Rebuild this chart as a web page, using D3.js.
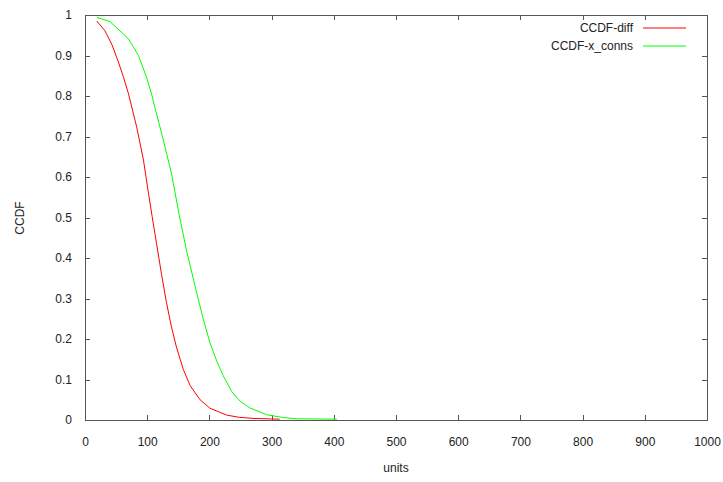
<!DOCTYPE html>
<html>
<head>
<meta charset="utf-8">
<script src="https://cdn.jsdelivr.net/npm/d3@7"></script>
<style>
  html, body { margin: 0; padding: 0; background: #fff; }
  svg { display: block; }
  text { font-family: "Liberation Sans", Arial, sans-serif; font-size: 12px; fill: #222; }
</style>
</head>
<body>
<svg id="chart" width="723" height="482"></svg>
<script>
const xTicks = [0, 100, 200, 300, 400, 500, 600, 700, 800, 900, 1000];
const yTicks = [0, 0.1, 0.2, 0.3, 0.4, 0.5, 0.6, 0.7, 0.8, 0.9, 1];
const yTickLabels = ["0", "0.1", "0.2", "0.3", "0.4", "0.5", "0.6", "0.7", "0.8", "0.9", "1"];
const seriesNames = ["CCDF-diff", "CCDF-x_conns"];
const seriesColors = ["#ff0000", "#00ff00"];

const diffX = [19, 32, 43, 53, 62, 70, 83, 94, 102, 108, 115, 123, 131, 139, 147, 158, 169, 185, 201, 228, 248, 270, 313];
const diffY = [0.985, 0.961, 0.928, 0.887, 0.846, 0.805, 0.724, 0.642, 0.56, 0.502, 0.436, 0.36, 0.29, 0.23, 0.18, 0.125, 0.085, 0.05, 0.029, 0.012, 0.0066, 0.004, 0.002];

const connsX = [19, 40, 70, 86, 99, 107, 112, 126, 139, 151, 163, 177, 190, 201, 212, 222, 236, 249, 265, 292, 319, 340, 405];
const connsY = [0.994, 0.984, 0.941, 0.9, 0.846, 0.805, 0.774, 0.691, 0.609, 0.51, 0.42, 0.33, 0.25, 0.19, 0.145, 0.11, 0.07, 0.047, 0.03, 0.013, 0.006, 0.003, 0.002];

const svg = d3.select("#chart");
const mLeft = 85, mRight = 707, mTop = 15, mBottom = 420;

const x = d3.scaleLinear().domain([0, 1000]).range([mLeft, mRight]);
const y = d3.scaleLinear().domain([0, 1]).range([mBottom, mTop]);

const axisColor = "#555";

// frame
svg.append("rect")
  .attr("x", mLeft).attr("y", mTop)
  .attr("width", mRight - mLeft).attr("height", mBottom - mTop)
  .attr("fill", "none").attr("stroke", axisColor).attr("stroke-width", 1)
  .attr("shape-rendering", "crispEdges");

// axes with inward ticks
const xAxisB = d3.axisBottom(x).tickValues(xTicks).tickSize(-5).tickPadding(17).tickFormat(d3.format("d"));
const gxb = svg.append("g").attr("transform", `translate(0,${mBottom})`).call(xAxisB);
const xAxisT = d3.axisTop(x).tickValues(xTicks).tickSize(-5).tickFormat("");
const gxt = svg.append("g").attr("transform", `translate(0,${mTop})`).call(xAxisT);
const yAxisL = d3.axisLeft(y).tickValues(yTicks).tickSize(-5).tickPadding(13).tickFormat((d, i) => yTickLabels[i]);
const gyl = svg.append("g").attr("transform", `translate(${mLeft},0)`).call(yAxisL);
const yAxisR = d3.axisRight(y).tickValues(yTicks).tickSize(-5).tickFormat("");
const gyr = svg.append("g").attr("transform", `translate(${mRight},0)`).call(yAxisR);

[gxb, gxt, gyl, gyr].forEach(g => {
  g.select(".domain").remove();
  g.selectAll(".tick line").attr("stroke", axisColor).attr("shape-rendering", "crispEdges");
  g.selectAll(".tick text").attr("fill", "#222").style("font-size", "12px")
    .style("font-family", '"Liberation Sans", Arial, sans-serif');
});

// axis titles
svg.append("text").attr("x", 396).attr("y", 472).attr("text-anchor", "middle").text("units");
svg.append("text").attr("transform", "translate(24,218) rotate(-90)").attr("text-anchor", "middle").text("CCDF");

// lines
const line = d3.line().x(d => x(d[0])).y(d => y(d[1]));
const series = [
  diffX.map((v, i) => [v, diffY[i]]),
  connsX.map((v, i) => [v, connsY[i]])
];
series.forEach((pts, i) => {
  svg.append("path").datum(pts)
    .attr("d", line)
    .attr("fill", "none")
    .attr("stroke", seriesColors[i])
    .attr("stroke-width", 1);
});

// legend
seriesNames.forEach((name, i) => {
  const ly = 28 + i * 18;
  svg.append("text").attr("x", 633).attr("y", ly + 4).attr("text-anchor", "end").text(name);
  svg.append("line").attr("x1", 643).attr("x2", 686).attr("y1", ly).attr("y2", ly)
    .attr("stroke", seriesColors[i]).attr("stroke-width", 1);
});
</script>
</body>
</html>
